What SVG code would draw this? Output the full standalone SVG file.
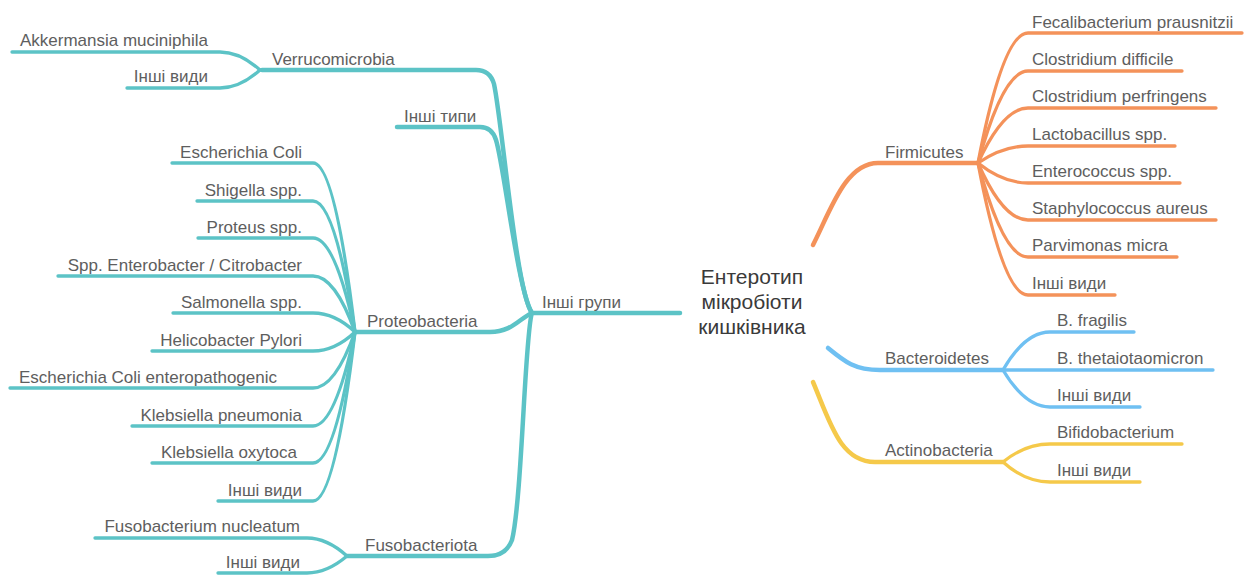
<svg xmlns="http://www.w3.org/2000/svg" width="1245" height="575" viewBox="0 0 1245 575">
  <style>
    .bg { fill: #ffffff; }
    .ln { fill: none; stroke-linecap: round; stroke-linejoin: round; }
    .teal { stroke: #5cc3c6; }
    .orange { stroke: #f4925a; }
    .blue { stroke: #6fc0f2; }
    .yellow { stroke: #f5c94a; }
    .main { stroke-width: 4.5; }
    .leaf { stroke-width: 3.3; }
    .lbl { font-family: "Liberation Sans", Arial, sans-serif; font-size: 17px; fill: #5e5e5e; }
    .end { text-anchor: end; }
    .root { font-family: "Liberation Sans", Arial, sans-serif; font-size: 21px; fill: #3a3a3a; text-anchor: middle; }
  </style>
  <rect class="bg" x="0" y="0" width="1245" height="575"/>

  <!-- connectors -->
  <g id="connectors">
    <!-- left side: other groups -->
    <path class="ln teal main" d="M680,313 L532,313"/>
    <path class="ln teal main" d="M532,313 C516,292 502,120 494,84 Q490,70 476,70 L262,70"/>
    <path class="ln teal main" d="M532,313 C518,292 504,165 496,140 Q492,127 480,127 L397,127"/>
    <path class="ln teal main" d="M532,313 C520,318 512,332 490,332 L355,332"/>
    <path class="ln teal main" d="M532,313 C525,330 522,500 512,540 Q506,556 488,556 L347,556"/>

    <!-- Verrucomicrobia leaves -->
    <path class="ln teal leaf" d="M260,70 Q240,52 220,52 L12,52"/>
    <path class="ln teal leaf" d="M260,70 Q240,88 220,88 L127,88"/>

    <!-- Proteobacteria leaves -->
    <path class="ln teal leaf" d="M355,332 Q335,163 313,163 L172,163"/>
    <path class="ln teal leaf" d="M355,332 Q335,201 313,201 L197,201"/>
    <path class="ln teal leaf" d="M355,332 Q335,238 313,238 L198,238"/>
    <path class="ln teal leaf" d="M355,332 Q335,276 313,276 L58,276"/>
    <path class="ln teal leaf" d="M355,332 Q335,313 313,313 L173,313"/>
    <path class="ln teal leaf" d="M355,332 Q335,351 313,351 L152,351"/>
    <path class="ln teal leaf" d="M355,332 Q335,388 313,388 L10,388"/>
    <path class="ln teal leaf" d="M355,332 Q335,426 313,426 L132,426"/>
    <path class="ln teal leaf" d="M355,332 Q335,463 313,463 L152,463"/>
    <path class="ln teal leaf" d="M355,332 Q335,501 313,501 L218,501"/>

    <!-- Fusobacteriota leaves -->
    <path class="ln teal leaf" d="M347,556 Q327,538 307,538 L95,538"/>
    <path class="ln teal leaf" d="M347,556 Q327,573 307,573 L218,573"/>

    <!-- right side trunks -->
    <path class="ln orange main" d="M813,245 C830,212 845,163 878,163 L978,163"/>
    <path class="ln blue main" d="M828,348 C845,362 855,370 880,370 L1003,370"/>
    <path class="ln yellow main" d="M813,382 C830,422 840,462 875,462 L1003,462"/>

    <!-- Firmicutes leaves -->
    <path class="ln orange leaf" d="M978,163 Q1003,33 1028,33 L1242,33"/>
    <path class="ln orange leaf" d="M978,163 Q1003,71 1028,71 L1182,71"/>
    <path class="ln orange leaf" d="M978,163 Q1003,108 1028,108 L1216,108"/>
    <path class="ln orange leaf" d="M978,163 Q1003,146 1028,146 L1175,146"/>
    <path class="ln orange leaf" d="M978,163 Q1003,183 1028,183 L1180,183"/>
    <path class="ln orange leaf" d="M978,163 Q1003,220 1028,220 L1216,220"/>
    <path class="ln orange leaf" d="M978,163 Q1003,257 1028,257 L1177,257"/>
    <path class="ln orange leaf" d="M978,163 Q1003,295 1028,295 L1115,295"/>

    <!-- Bacteroidetes leaves -->
    <path class="ln blue leaf" d="M1003,370 Q1025,332 1050,332 L1134,332"/>
    <path class="ln blue leaf" d="M1003,370 L1213,370"/>
    <path class="ln blue leaf" d="M1003,370 Q1025,407 1050,407 L1140,407"/>

    <!-- Actinobacteria leaves -->
    <path class="ln yellow leaf" d="M1003,462 Q1025,444 1050,444 L1182,444"/>
    <path class="ln yellow leaf" d="M1003,462 Q1025,482 1050,482 L1140,482"/>
  </g>

  <!-- central topic -->
  <g id="root">
    <text class="root" x="752" y="284">Ентеротип</text>
    <text class="root" x="752" y="309">мікробіоти</text>
    <text class="root" x="752" y="334">кишківника</text>
  </g>

  <!-- left branch -->
  <g id="other-groups"><text class="lbl" x="542" y="308">Інші групи</text></g>
  <g id="verrucomicrobia"><text class="lbl" x="272" y="65">Verrucomicrobia</text></g>
  <g id="other-types"><text class="lbl" x="404" y="122">Інші типи</text></g>
  <g id="proteobacteria"><text class="lbl" x="367" y="327">Proteobacteria</text></g>
  <g id="fusobacteriota"><text class="lbl" x="365" y="551">Fusobacteriota</text></g>

  <g id="akkermansia"><text class="lbl end" x="208" y="46">Akkermansia muciniphila</text></g>
  <g id="verruco-other"><text class="lbl end" x="208" y="82">Інші види</text></g>

  <g id="e-coli"><text class="lbl end" x="302" y="158">Escherichia Coli</text></g>
  <g id="shigella"><text class="lbl end" x="302" y="196">Shigella spp.</text></g>
  <g id="proteus"><text class="lbl end" x="302" y="233">Proteus spp.</text></g>
  <g id="enterobacter"><text class="lbl end" x="302" y="271">Spp. Enterobacter / Citrobacter</text></g>
  <g id="salmonella"><text class="lbl end" x="302" y="308">Salmonella spp.</text></g>
  <g id="helicobacter"><text class="lbl end" x="302" y="346">Helicobacter Pylori</text></g>
  <g id="epec"><text class="lbl end" x="277" y="383">Escherichia Coli enteropathogenic</text></g>
  <g id="k-pneumonia"><text class="lbl end" x="302" y="421">Klebsiella pneumonia</text></g>
  <g id="k-oxytoca"><text class="lbl end" x="297" y="458">Klebsiella oxytoca</text></g>
  <g id="proteo-other"><text class="lbl end" x="302" y="496">Інші види</text></g>

  <g id="fusobacterium"><text class="lbl end" x="300" y="532">Fusobacterium nucleatum</text></g>
  <g id="fuso-other"><text class="lbl end" x="300" y="568">Інші види</text></g>

  <!-- right branches -->
  <g id="firmicutes"><text class="lbl" x="885" y="158">Firmicutes</text></g>
  <g id="faecalibacterium"><text class="lbl" x="1032" y="28">Fecalibacterium prausnitzii</text></g>
  <g id="c-difficile"><text class="lbl" x="1032" y="65">Clostridium difficile</text></g>
  <g id="c-perfringens"><text class="lbl" x="1032" y="102">Clostridium perfringens</text></g>
  <g id="lactobacillus"><text class="lbl" x="1032" y="140">Lactobacillus spp.</text></g>
  <g id="enterococcus"><text class="lbl" x="1032" y="177">Enterococcus spp.</text></g>
  <g id="staphylococcus"><text class="lbl" x="1032" y="214">Staphylococcus aureus</text></g>
  <g id="parvimonas"><text class="lbl" x="1032" y="251">Parvimonas micra</text></g>
  <g id="firmi-other"><text class="lbl" x="1032" y="289">Інші види</text></g>

  <g id="bacteroidetes"><text class="lbl" x="885" y="364">Bacteroidetes</text></g>
  <g id="b-fragilis"><text class="lbl" x="1057" y="326">B. fragilis</text></g>
  <g id="b-theta"><text class="lbl" x="1057" y="364">B. thetaiotaomicron</text></g>
  <g id="bactero-other"><text class="lbl" x="1057" y="401">Інші види</text></g>

  <g id="actinobacteria"><text class="lbl" x="885" y="456">Actinobacteria</text></g>
  <g id="bifidobacterium"><text class="lbl" x="1057" y="438">Bifidobacterium</text></g>
  <g id="actino-other"><text class="lbl" x="1057" y="476">Інші види</text></g>
</svg>
